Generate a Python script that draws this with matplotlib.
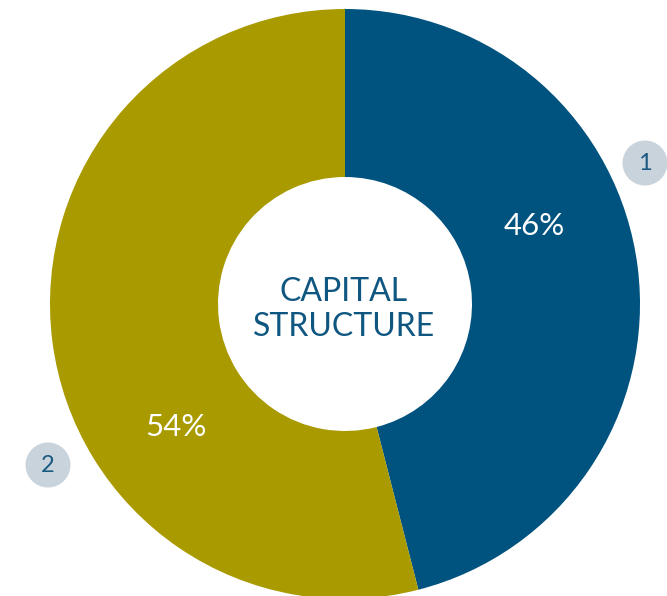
import matplotlib
matplotlib.use('Agg')
import matplotlib.pyplot as plt
from matplotlib.patches import Circle

# capital structure split
shares = [46, 54]
share_labels = ['46%', '54%']
slice_colors = ['#00527f', '#a99a00']
marker_nums = ['1', '2']
title_lines = ['CAPITAL', 'STRUCTURE']

W, H = 667, 596
fig = plt.figure(figsize=(W / 100, H / 100), dpi=100)
ax = fig.add_axes([0, 0, 1, 1])

# donut in pixel coordinates (y up)
cx, cy = 345, H - 304
r_out = 295
r_in = 127

wedges, _ = ax.pie(shares, colors=slice_colors, startangle=90, counterclock=False,
                   center=(cx, cy), radius=r_out,
                   wedgeprops=dict(width=r_out - r_in, linewidth=0))

ax.set_xlim(0, W)
ax.set_ylim(0, H)
ax.set_aspect('equal')
ax.axis('off')

font = dict(family='Lato', fontweight='normal')

# percentage labels inside the ring
ax.text(534, H - 226, share_labels[0], color='white', fontsize=22.5,
        ha='center', va='center', **font)
ax.text(176, H - 427, share_labels[1], color='white', fontsize=22.5,
        ha='center', va='center', **font)

# centre title
ax.text(cx - 1, H - 292, title_lines[0], color='#0f5680', fontsize=23,
        ha='center', va='center', **font)
ax.text(cx - 1, H - 327, title_lines[1], color='#0f5680', fontsize=23,
        ha='center', va='center', **font)

# numbered markers beside the slices
for (mx, my), num in zip([(645, 163), (48, 465)], marker_nums):
    ax.add_patch(Circle((mx, H - my), 22.5, color='#c9d3dc', lw=0, zorder=3))
    ax.text(mx, H - my, num, color='#1a5a82', fontsize=17,
            ha='center', va='center', zorder=4, **font)

fig.savefig('out.png', dpi=100)
